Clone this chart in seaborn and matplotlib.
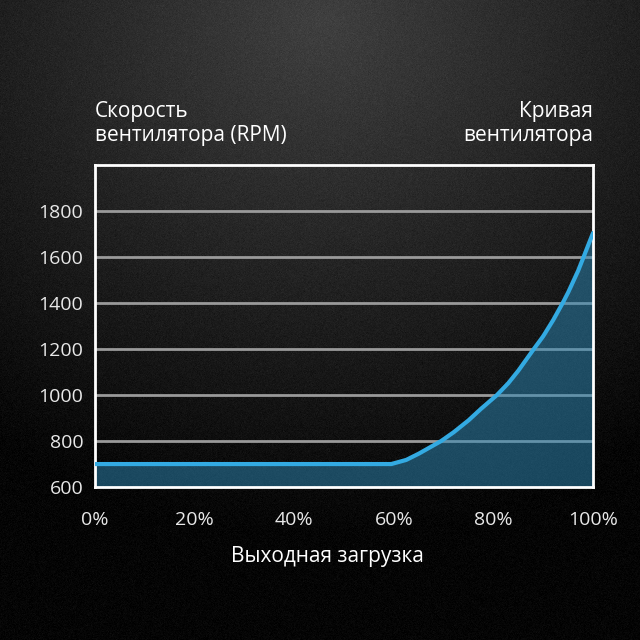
import numpy as np
import pandas as pd
import matplotlib
matplotlib.use('Agg')
import matplotlib.pyplot as plt
import seaborn as sns

# fan curve
load_pct = [0, 59.5, 62.5, 65, 69.5, 72, 75, 77.5, 80.7, 83, 85, 88.1, 90, 92, 93.9, 95, 97, 98.1, 99, 100]
fan_rpm = [700, 700, 718, 745, 800, 838, 890, 940, 1000, 1052, 1106, 1200, 1256, 1326, 1400, 1446, 1540, 1600, 1650, 1705]

y_ticks = [600, 800, 1000, 1200, 1400, 1600, 1800]
x_ticks = [0, 20, 40, 60, 80, 100]
x_labels = ['0%', '20%', '40%', '60%', '80%', '100%']

sns.set_style('dark')
plt.rcParams['font.family'] = ['Open Sans', 'DejaVu Sans']

fig = plt.figure(figsize=(6.4, 6.4), dpi=100)

# radial dark background
bg = fig.add_axes([0, 0, 1, 1])
yy, xx = np.mgrid[0:640, 0:640]
r = np.sqrt((xx - 320) ** 2 + ((yy - 20) * 1.1) ** 2) / 640
shade = np.clip(0.25 - 0.26 * r, 0.02, 0.25)
rng = np.random.default_rng(1)
shade = shade + rng.normal(0, 0.012, shade.shape)
bg.imshow(np.dstack([shade] * 3).clip(0, 1), extent=[0, 1, 0, 1], aspect='auto')
bg.axis('off')

ax = fig.add_axes([0.1484, 0.239, 0.7782, 0.503])
ax.patch.set_alpha(0)
df = pd.DataFrame({'load': load_pct, 'rpm': fan_rpm})

for t in y_ticks[1:]:
    ax.axhline(t, color='#9a9a9a', lw=2, zorder=1)
ax.fill_between(df['load'], 600, df['rpm'], color='#2e8ab8', alpha=0.5, lw=0, zorder=2)
sns.lineplot(data=df, x='load', y='rpm', ax=ax, color='#33aae2', lw=3, zorder=3)

ax.set_xlim(0, 100)
ax.set_ylim(600, 2000)
ax.set_yticks(y_ticks)
ax.set_xticks(x_ticks)
ax.set_xticklabels(x_labels)
ax.grid(False)
for s in ax.spines.values():
    s.set_visible(True)
    s.set_color('white')
    s.set_linewidth(2)
ax.tick_params(axis='y', colors='white', labelsize=14, length=4, width=2, pad=4.5, labelcolor='#e8e8e8')
ax.tick_params(axis='x', colors='white', labelsize=14, length=0, pad=17, labelcolor='#e8e8e8')
ax.set_xlabel('')
ax.set_ylabel('')

fig.text(0.1484, 0.772, 'Скорость\nвентилятора (RPM)', color='white', fontsize=15,
         ha='left', va='bottom', linespacing=1.2)
fig.text(0.9266, 0.772, 'Кривая\nвентилятора', color='white', fontsize=15,
         ha='right', va='bottom', linespacing=1.2)
fig.text(0.512, 0.13, 'Выходная загрузка', color='white', fontsize=15, ha='center', va='center')

fig.savefig('out.png', dpi=100)
